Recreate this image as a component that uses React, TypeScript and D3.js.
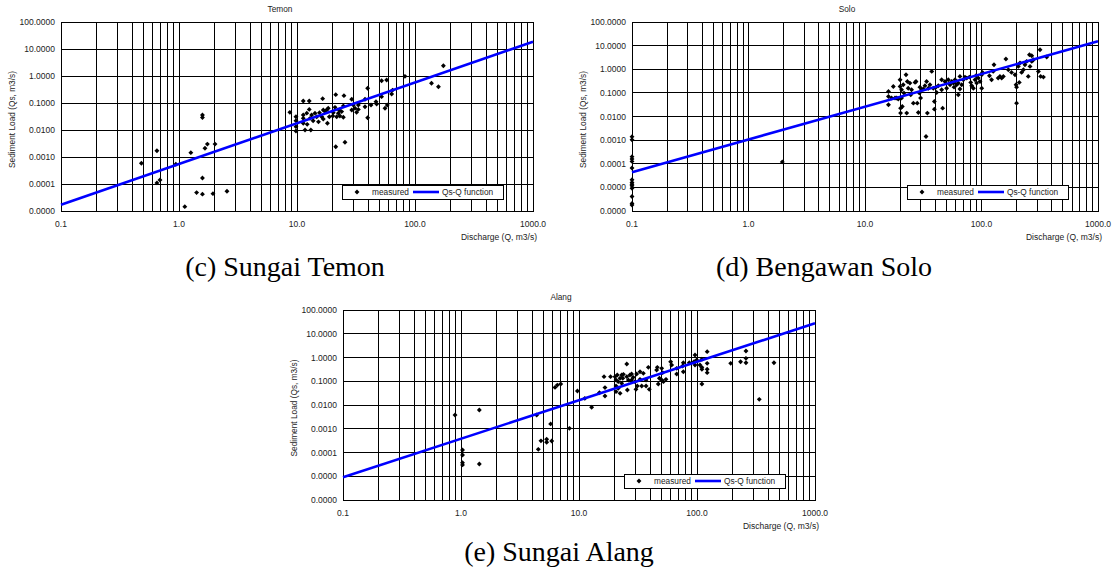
import React from "react";
import * as d3 from "d3";

// ---- Shared axis ticks ----
const xTickValues = [0.1, 1, 10, 100, 1000];
const yTickValues7 = [1e-5, 1e-4, 1e-3, 1e-2, 1e-1, 1, 10, 100];
const yTickValues8 = [1e-6, 1e-5, 1e-4, 1e-3, 1e-2, 1e-1, 1, 10, 100];

// ---- Sungai Temon ----
const temonQ = [
  0.48, 0.65, 0.65, 0.69, 0.94, 1.12, 1.26, 1.41, 1.58, 1.58, 1.58, 1.58, 1.66, 1.74, 1.94, 2.02, 2.55,
  8.7, 9.8, 9.8, 9.8, 9.8, 11.3, 11.3, 11.3, 11.3, 11.7, 12.1, 12.2, 12.7, 12.7, 12.9, 13.1, 13.3, 13.7,
  14.2, 14.7, 15.2, 15.5, 16.2, 16.5, 16.7, 16.7, 17.3, 17.8, 18.1, 18.4, 18.8, 20.1, 20.3, 21.0, 21.3,
  21.3, 21.7, 22.4, 22.8, 23.1, 23.9, 24.7, 24.7, 25.0, 25.5, 29.1, 29.1, 30.0, 31.0, 32.0, 33.1, 33.1,
  37.7, 37.7, 39.7, 39.7, 42.4, 46.7, 47.3, 52.1, 52.1, 55.7, 57.5, 58.2, 63.4, 64.6, 82.2, 138, 158, 174,
];
const temonQs = [
  5.9e-4, 1.7e-3, 1.1e-4, 1.4e-4, 5.4e-4, 1.45e-5, 1.45e-3, 4.8e-5, 0.036, 0.029, 1.66e-4, 4.2e-5, 2.1e-3, 3.0e-3, 4.4e-5, 3.0e-3, 5.4e-5,
  0.045, 0.031, 0.022, 0.0133, 0.0092, 0.119, 0.036, 0.027, 0.0177, 0.01, 0.042, 0.0162, 0.119, 0.058, 0.027, 0.01, 0.036, 0.022,
  0.042, 0.031, 0.02, 0.044, 0.031, 0.145, 0.055, 0.0255, 0.048, 0.055, 0.0177, 0.064, 0.031, 0.033, 0.044, 0.069, 0.204,
  0.0024, 0.031, 0.042, 0.055, 0.033, 0.048, 0.078, 0.0295, 0.187, 0.0035, 0.137, 0.055, 0.084, 0.064, 0.045, 0.084, 0.058,
  0.137, 0.073, 0.35, 0.0286, 0.084, 0.112, 0.092, 0.172, 0.67, 0.064, 0.71, 0.084, 0.215, 0.3, 0.97, 0.54, 0.4, 2.4,
];
// Qs = a * Q^b
const temonFit = [5.5e-4, 1.51];

// ---- Bengawan Solo ----
const soloQ = [
  0.1, 0.1, 0.1, 0.1, 0.1, 0.1, 0.1, 0.1, 0.1, 0.1, 0.1, 0.1, 0.1, 0.1, 1.95,
  15.9, 15.9, 15.9, 16.9, 17.5, 18.1, 18.7, 19.3, 20.0, 20.0, 20.2, 20.2, 20.6, 20.6, 20.9, 21.3, 21.6,
  22.5, 22.8, 23.1, 23.5, 24.3, 24.7, 25.1, 26.0, 26.9, 27.4, 28.1, 28.7, 29.3, 29.6, 30.0, 30.6, 31.6,
  32.7, 33.4, 33.8, 34.3, 35.0, 36.1, 37.4, 38.6, 39.4, 39.4, 40.7, 41.2, 42.6, 45.5, 45.5, 46.4, 48.6,
  50.2, 51.9, 53.7, 55.5, 57.3, 58.1, 59.3, 61.2, 63.2, 63.2, 65.3, 65.3, 67.6, 69.8, 72.1, 74.6, 78.7,
  80.8, 82.4, 85.2, 88.0, 89.7, 90.9, 94.0, 97.1, 100.4, 100.4, 102, 117, 122, 126, 128, 139, 144, 149,
  154, 162, 170, 181, 194, 198, 200, 200, 207, 211, 214, 221, 229, 236, 244, 252, 258, 261, 270, 270,
  279, 308, 318, 322, 340, 363,
];
const soloQs = [
  1.4e-3, 1.03e-3, 2.0e-4, 1.6e-4, 1.26e-4, 6.6e-5, 2.1e-5, 1.6e-5, 1.36e-5, 1.16e-5, 9.2e-6, 4.1e-6, 2.1e-6, 1.8e-6, 1.2e-4,
  0.115, 0.0706, 0.0313, 0.0603, 0.187, 0.0603, 0.0603, 0.0544, 0.359, 0.187, 0.0226, 0.0139, 0.135, 0.0603, 0.0266, 0.22, 0.0977,
  0.585, 0.0139, 0.305, 0.158, 0.259, 0.0832, 0.135, 0.0368, 0.277, 0.305, 0.0368, 0.0148, 0.0977, 0.175, 0.0603, 0.135, 0.145,
  0.2, 0.00143, 0.305, 0.0139, 0.158, 0.22, 0.809, 0.158, 0.0434, 0.0205, 0.175, 0.104, 0.2, 0.359, 0.135, 0.0226, 0.305,
  0.158, 0.359, 0.22, 0.305, 0.259, 0.175, 0.359, 0.22, 0.259, 0.0832, 0.497, 0.145, 0.22, 0.359, 0.466, 0.423, 0.466,
  0.277, 0.2, 0.158, 0.359, 0.531, 0.259, 0.423, 0.305, 0.585, 0.158, 0.735, 0.531, 0.359, 0.809, 1.55, 0.423, 0.497, 0.423,
  0.497, 2.7, 0.953, 0.735, 0.585, 0.22, 0.175, 0.0368, 1.32, 0.277, 1.83, 0.735, 0.953, 1.55, 2.15, 0.497, 4.11, 1.32, 3.73, 2.15,
  2.53, 0.809, 6.7, 0.497, 0.466, 3.28,
];
const soloFit = [1.07e-3, 1.385];

// ---- Sungai Alang ----
const alangQ = [
  0.89, 1.03, 1.03, 1.03, 1.03, 1.43, 1.43, 4.38, 4.52, 4.76, 5.32, 5.32, 5.75, 5.87, 6.26, 6.55,
  7.0, 8.3, 9.7, 11.2, 12.8, 14.9, 16.3, 16.6, 16.6, 18.5, 20.2, 20.6, 20.6, 20.6, 21.1, 21.5, 21.5,
  22.3, 22.3, 23.0, 23.0, 23.5, 23.8, 25.4, 25.4, 25.7, 26.2, 27.0, 27.9, 27.9, 28.8, 29.8, 30.4, 30.8,
  31.2, 32.9, 32.9, 34.0, 35.1, 37.0, 37.0, 38.7, 39.4, 45.5, 46.1, 47.0, 48.0, 50.2, 50.2, 51.2, 51.9,
  54.6, 59.8, 61.0, 67.3, 67.3, 75.6, 76.6, 76.6, 86.0, 94.4, 96.2, 96.2, 99.4, 106, 110, 110, 110, 110,
  122, 122, 122, 122, 193, 234, 260, 260, 260, 337, 449,
];
const alangQs = [
  0.0038, 1.27e-4, 7.9e-5, 3.7e-5, 3.0e-5, 0.0062, 3.3e-5, 0.0038, 1.36e-4, 3.1e-4, 3.6e-4, 2.7e-4, 0.0016, 3.05e-4, 0.055, 0.069,
  0.077, 0.00104, 0.039, 0.019, 0.008, 0.033, 0.156, 0.054, 0.024, 0.156, 0.156, 0.113, 0.063, 0.0364, 0.183, 0.096, 0.0504,
  0.133, 0.031, 0.183, 0.0817, 0.133, 0.195, 0.532, 0.156, 0.0429, 0.113, 0.183, 0.202, 0.113, 0.146, 0.096, 0.0457, 0.202,
  0.063, 0.253, 0.12, 0.063, 0.215, 0.113, 0.063, 0.385, 0.0457, 0.298, 0.385, 0.0766, 0.133, 0.35, 0.113, 0.23, 0.096,
  0.12, 0.667, 0.483, 0.35, 0.202, 0.439, 0.605, 0.253, 0.605, 0.667, 1.27, 0.483, 0.785, 0.483, 0.838, 0.385, 0.0766, 0.318,
  1.76, 0.568, 0.318, 0.23, 0.568, 0.667, 1.88, 0.923, 0.605, 0.0173, 0.605,
];
const alangFit = [3.8e-4, 1.62];

const SANS = "'Liberation Sans', Arial, sans-serif";
const SERIF = "'Liberation Serif', 'Times New Roman', serif";
const BLUE = "#0000ff";

type PanelProps = {
  title: string;
  caption: string;
  q: number[];
  qs: number[];
  fit: number[];
  yTicks: number[];
  left: number;
  right: number;
  top: number;
  bottom: number;
  titleX: number;
  captionX: number;
  captionY: number;
};

const fmtY = d3.format(".4f");
const fmtX = d3.format(".1f");
const marker = d3.symbol().type(d3.symbolSquare).size(12)();

function Panel(p: PanelProps) {
  const x = d3.scaleLog().domain([0.1, 1000]).range([p.left, p.right]);
  const y = d3
    .scaleLog()
    .domain([p.yTicks[0], p.yTicks[p.yTicks.length - 1]])
    .range([p.bottom, p.top]);

  // minor vertical gridlines at 2..9 of every decade
  const minorX: number[] = [];
  for (let i = 0; i < xTickValues.length - 1; i++) {
    for (let k = 2; k <= 9; k++) minorX.push(xTickValues[i] * k);
  }

  const [a, b] = p.fit;
  const fitQ = x.domain();
  const fitLine = d3
    .line<number>()
    .x((d) => x(d))
    .y((d) => y(a * Math.pow(d, b)))(fitQ);

  const legW = 161;
  const legH = 14;
  const legX = p.right - 30 - legW;
  const legY = p.bottom - 26;
  const midY = (p.top + p.bottom) / 2;

  return (
    <g>
      <text x={p.titleX} y={p.top - 10} fontSize={8.3} fontFamily={SANS} textAnchor="middle" fill="#222">
        {p.title}
      </text>

      {/* gridlines */}
      <g stroke="#000" strokeWidth={1} shapeRendering="crispEdges">
        {minorX.map((v, i) => (
          <line key={"mx" + i} x1={x(v)} x2={x(v)} y1={p.top} y2={p.bottom} />
        ))}
        {xTickValues.map((v, i) => (
          <line key={"Mx" + i} x1={x(v)} x2={x(v)} y1={p.top} y2={p.bottom} />
        ))}
        {p.yTicks.map((v, i) => (
          <line key={"My" + i} x1={p.left} x2={p.right} y1={y(v)} y2={y(v)} />
        ))}
        {p.yTicks.map((v, i) => (
          <line key={"tk" + i} x1={x(1)} x2={x(1) + 3} y1={y(v)} y2={y(v)} />
        ))}
        <rect x={p.left} y={p.top} width={p.right - p.left} height={p.bottom - p.top} fill="none" />
      </g>

      {/* y tick labels */}
      {p.yTicks.map((v, i) => (
        <text key={"yl" + i} x={p.left - 6} y={y(v) + 3} fontSize={8.5} fontFamily={SANS} textAnchor="end" fill="#222">
          {fmtY(v)}
        </text>
      ))}
      {/* x tick labels */}
      {xTickValues.map((v, i) => (
        <text key={"xl" + i} x={x(v)} y={p.bottom + 16} fontSize={8.5} fontFamily={SANS} textAnchor="middle" fill="#222">
          {fmtX(v)}
        </text>
      ))}

      <text
        transform={`translate(${p.left - 46},${midY + 3}) rotate(-90)`}
        fontSize={8.3}
        fontFamily={SANS}
        textAnchor="middle"
        fill="#222"
      >
        Sediment Load (Qs, m3/s)
      </text>
      <text x={p.right + 4} y={p.bottom + 29} fontSize={8.5} fontFamily={SANS} textAnchor="end" fill="#222">
        Discharge (Q, m3/s)
      </text>

      {/* measured points */}
      <g fill="#000">
        {p.q.map((q, i) => (
          <path key={"pt" + i} d={marker!} transform={`translate(${x(q)},${y(p.qs[i])}) rotate(45)`} />
        ))}
      </g>

      {/* fitted Qs-Q function */}
      <path d={fitLine!} fill="none" stroke={BLUE} strokeWidth={2.6} />

      {/* legend */}
      <g>
        <rect x={legX} y={legY} width={legW} height={legH} fill="#fff" stroke="#000" strokeWidth={1} shapeRendering="crispEdges" />
        <path d={marker!} transform={`translate(${legX + 15},${legY + 7}) rotate(45)`} fill="#000" />
        <text x={legX + 30} y={legY + 10} fontSize={8.3} fontFamily={SANS} fill="#222">
          measured
        </text>
        <line x1={legX + 71} x2={legX + 97} y1={legY + 7} y2={legY + 7} stroke={BLUE} strokeWidth={2.6} />
        <text x={legX + 100} y={legY + 10} fontSize={8.3} fontFamily={SANS} fill="#222">
          Qs-Q function
        </text>
      </g>

      <text x={p.captionX} y={p.captionY} fontSize={28} fontFamily={SERIF} textAnchor="middle" fill="#000">
        {p.caption}
      </text>
    </g>
  );
}

export default function App() {
  return (
    <svg
      width={1114}
      height={574}
      viewBox="0 0 1114 574"
      style={{ position: "absolute", left: 0, top: 0, background: "#fff" }}
    >
      <rect x={0} y={0} width={1114} height={574} fill="#fff" />
      <Panel
        title="Temon"
        caption="(c) Sungai Temon"
        q={temonQ}
        qs={temonQs}
        fit={temonFit}
        yTicks={yTickValues7}
        left={61}
        right={533}
        top={22}
        bottom={211}
        titleX={280}
        captionX={285}
        captionY={276}
      />
      <Panel
        title="Solo"
        caption="(d) Bengawan Solo"
        q={soloQ}
        qs={soloQs}
        fit={soloFit}
        yTicks={yTickValues8}
        left={632}
        right={1098}
        top={22}
        bottom={211}
        titleX={847}
        captionX={824}
        captionY={276}
      />
      <Panel
        title="Alang"
        caption="(e) Sungai Alang"
        q={alangQ}
        qs={alangQs}
        fit={alangFit}
        yTicks={yTickValues8}
        left={343}
        right={815}
        top={310}
        bottom={500}
        titleX={561}
        captionX={559}
        captionY={561}
      />
    </svg>
  );
}
